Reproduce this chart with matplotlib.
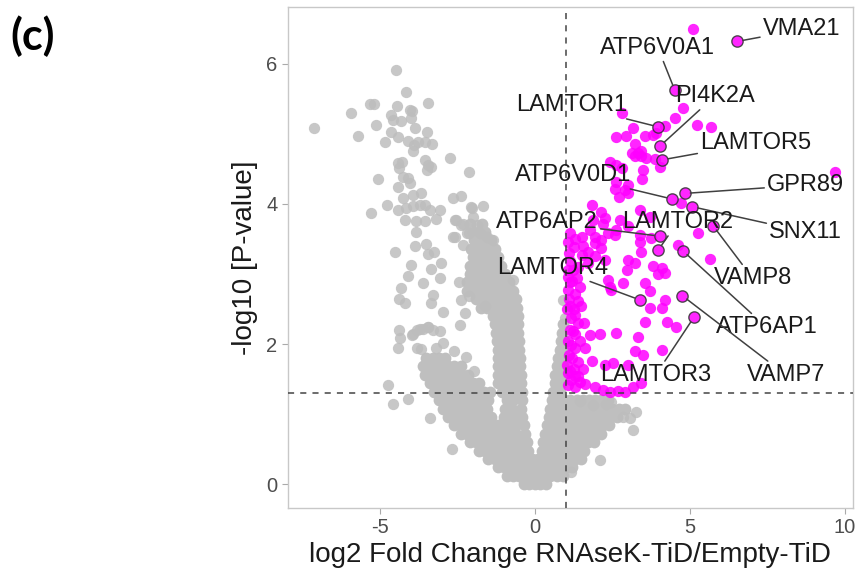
import numpy as np
import matplotlib
matplotlib.use("Agg")
import matplotlib.pyplot as plt

# ---------------------------------------------------------------
# data (log2 FC, -log10 p)
# ---------------------------------------------------------------

# scattered grey (non significant) proteins
gray_x = [-4.49, -4.15, -5.33, -5.19, -5.93, -4.45, -3.45, -4.04, -3.97, -4.65, -4.58, -4.33,
          -3.99, -7.14, -5.12, -5.71, -4.64, -4.42, -3.86, -3.49, -4.83, -4.10, -3.90, -3.77,
          -3.54, -3.32, -3.93, -2.75, -4.42, -4.29, -4.39, -3.56, -3.45, -3.35, -3.47, -2.11,
          -5.06, -4.26, -4.10, -4.04, -4.42, -3.94, -3.69, -4.26, -2.65, -2.38,
          -4.77, -5.28, -4.42, -4.15, -3.94, -3.72, -3.54, -3.07, -3.40, -4.20, -3.83, -3.56,
          -3.18, -2.59, -2.38, -2.05, -1.68, -3.83, -2.59, -2.32, -2.11, -4.53, -3.88, -3.51,
          -3.24, -3.45, -3.99, -4.10, -3.02, -3.35, -3.07, -3.61, -4.33, -4.37, -4.20, -3.29,
          -3.35, -2.97, -2.38, -2.11, -2.27, -2.43, -4.37, -3.94, -3.72, -3.45, -3.07,
          -2.04, -2.53, -2.31, -1.99, -1.88, -2.64, -2.20, -1.77, -1.56, -1.34,
          -4.35, -4.41, -3.98, -3.82, -3.60, -3.44, -3.28, -3.82, -4.73, -4.59, -4.09, -3.37,
          -2.69, 3.17, 2.10, 1.18, 1.45, 3.28, 2.85, 3.06, 1.88, 2.31, 2.47, 0.91, 0.97,
          -3.20, -2.62, -3.66, -2.22, -1.95, -2.95, -1.62, -0.70, -2.45]
gray_y = [5.91, 5.60, 5.42, 5.42, 5.30, 5.40, 5.44, 5.34, 5.32, 5.27, 5.20, 5.18,
          5.22, 5.08, 5.12, 4.97, 5.03, 4.95, 5.08, 5.03, 4.89, 4.90, 4.84, 4.89,
          4.89, 4.86, 4.76, 4.66, 4.58, 4.60, 4.51, 4.63, 4.56, 4.52, 4.48, 4.45,
          4.36, 4.38, 4.37, 4.30, 4.24, 4.13, 4.16, 4.08, 4.08, 4.12,
          3.99, 3.87, 3.91, 3.94, 3.97, 3.99, 3.99, 3.91, 3.91, 3.77, 3.75, 3.76,
          3.78, 3.77, 3.70, 3.96, 3.97, 3.60, 3.53, 3.41, 3.58, 3.32, 3.40, 3.43,
          3.32, 3.29, 3.13, 2.97, 3.16, 3.07, 2.94, 2.87, 2.80, 2.64, 2.59, 2.70,
          2.59, 2.46, 2.63, 2.69, 2.44, 2.27, 2.20, 2.14, 2.21, 2.25, 2.18,
          3.94, 3.77, 3.72, 3.82, 3.70, 3.53, 3.58, 3.58, 3.53, 3.49,
          2.08, 1.94, 2.13, 2.20, 2.22, 2.24, 2.20, 1.94, 1.41, 1.15, 1.21, 0.95,
          0.50, 0.77, 0.34, 0.18, 1.19, 1.03, 0.96, 0.94, 1.13, 1.15, 1.18, 2.63, 2.37,
          1.95, 1.90, 1.93, 1.82, 1.62, 2.02, 2.55, 2.92, 2.88]

# dense grey core of the volcano, one list of log2 FC per -log10 p level
core_levels = [0.00, 0.12, 0.24, 0.36, 0.48, 0.60, 0.72, 0.84, 0.96, 1.08, 1.20, 1.32,
               1.44, 1.56, 1.68, 1.80, 1.92, 2.04, 2.16, 2.28, 2.40, 2.52, 2.64, 2.76,
               2.88, 3.00, 3.12, 3.24, 3.36, 3.48, 3.60, 3.72]
core_rows = [
    [-0.36, -0.18, 0.0, 0.18, 0.36],
    [-0.9, -0.7, -0.5, -0.3, -0.1, 0.1, 0.3, 0.5, 0.7, 0.9],
    [-1.2, -1.0, -0.8, -0.6, -0.4, -0.2, 0.0, 0.2, 0.4, 0.6, 0.8, 1.0, 1.2],
    [-1.5, -1.3, -1.1, -0.9, -0.7, -0.5, -0.3, -0.1, 0.1, 0.3, 0.5, 0.7, 0.9, 1.1, 1.3, 1.5],
    [-1.8, -1.6, -1.4, -1.2, -1.0, -0.8, -0.6, -0.4, -0.22, 0.22, 0.4, 0.6, 0.8, 1.0, 1.2,
     1.4, 1.6],
    [-2.1, -1.9, -1.7, -1.5, -1.3, -1.1, -0.9, -0.7, -0.5, -0.26, 0.27, 0.5, 0.7, 0.9, 1.1,
     1.3, 1.5, 1.7, 1.9],
    [-2.4, -2.2, -2.0, -1.8, -1.6, -1.4, -1.2, -1.0, -0.8, -0.6, -0.32, 0.34, 0.55, 0.75,
     0.95, 1.15, 1.35, 1.55, 1.75, 1.95, 2.15],
    [-2.6, -2.4, -2.2, -2.0, -1.8, -1.6, -1.4, -1.2, -1.0, -0.8, -0.6, -0.36, 0.4, 0.6, 0.8,
     1.0, 1.2, 1.4, 1.6, 1.8, 2.0, 2.2, 2.4],
    [-2.8, -2.6, -2.4, -2.2, -2.0, -1.8, -1.6, -1.4, -1.0, -0.8, -0.6, -0.4, 0.45, 0.65,
     0.85, 1.05, 1.25, 1.45, 1.65, 1.85, 2.05, 2.25, 2.45, 2.65],
    [-2.95, -2.75, -2.55, -2.35, -2.15, -1.95, -1.75, -1.55, -0.95, -0.75, -0.45, 0.5, 0.7,
     0.9, 1.1, 1.3, 1.5, 1.7, 1.9, 2.1, 2.3, 2.5, 2.7, 2.9],
    [-3.1, -2.9, -2.7, -2.5, -2.3, -2.1, -1.9, -1.7, -1.5, -0.9, -0.7, -0.42, 0.55, 0.75,
     0.95, 1.15, 1.35, 1.55, 1.75, 1.95, 2.15, 2.35],
    [-3.25, -3.05, -2.85, -2.65, -2.45, -2.25, -2.05, -1.85, -1.65, -1.45, -1.05, -0.85,
     -0.65, -0.43, 0.6, 0.8],
    [-3.4, -3.2, -3.0, -2.8, -2.6, -2.4, -2.2, -2.0, -1.8, -1.2, -1.0, -0.8, -0.6, -0.44,
     0.64, 0.84],
    [-3.55, -3.35, -3.15, -2.95, -2.75, -2.55, -2.35, -2.15, -1.2, -1.0, -0.8, -0.62, -0.46,
     0.66, 0.86],
    [-3.6, -3.4, -3.2, -3.0, -2.8, -2.6, -2.4, -1.2, -1.0, -0.8, -0.64, -0.48, 0.7, 0.9],
    [-3.5, -3.3, -3.1, -2.9, -1.2, -1.0, -0.8, -0.64, -0.48, 0.74, 0.92],
    [-1.2, -1.0, -0.8, -0.65, -0.5, 0.8, 0.94],
    [-1.22, -1.02, -0.82, -0.66, -0.52, 0.84, 0.95],
    [-1.25, -1.05, -0.85, -0.68, -0.53, 0.88],
    [-1.28, -1.08, -0.88, -0.7, -0.54, 0.92],
    [-1.35, -1.15, -0.95, -0.75, -0.56],
    [-1.75, -1.55, -1.35, -1.15, -0.95, -0.75, -0.58],
    [-1.9, -1.7, -1.5, -1.3, -1.1, -0.9, -0.7, -0.62],
    [-2.2, -2.0, -1.8, -1.6, -1.4, -1.2, -1.0, -0.8, -0.72],
    [-2.2, -2.0, -1.8, -1.6, -1.4, -1.2, -1.0, -0.85],
    [-2.1, -1.9, -1.7, -1.5, -1.3, -1.1, -0.95],
    [-2.1, -1.9, -1.7, -1.5, -1.3, -1.1],
    [-2.0, -1.8, -1.6, -1.4, -1.2],
    [-2.05, -1.85, -1.65, -1.45, -1.28],
    [-1.95, -1.75, -1.55, -1.4],
    [-2.0, -1.8, -1.6],
    [-2.1, -1.7],
]

# significant (magenta) proteins
sig_x = [5.09, 4.78, 4.52, 2.80, 4.19, 3.82, 3.92, 5.24, 5.70, 3.17, 3.55, 2.63, 2.94, 3.23,
         3.12, 3.33, 3.42, 3.58, 4.03, 2.42, 2.63, 2.80, 3.49, 9.68, 2.63, 2.58, 2.90, 3.01,
         2.72, 4.73, 1.83, 2.15, 3.39, 3.71, 1.88, 2.20, 1.77, 2.74, 2.63, 2.37, 3.01, 3.39,
         5.27, 1.51, 1.94, 2.15, 2.58, 3.23, 3.87, 3.46, 3.01, 2.26, 3.44,
         1.56, 1.94, 2.15, 1.72, 1.51, 3.39, 3.76, 4.62, 3.44, 5.65, 1.13, 1.40, 1.72, 1.94,
         2.26, 3.01, 2.96, 3.23, 3.82, 4.09, 4.19, 3.98, 2.37, 2.42, 2.85, 2.47, 3.55, 3.71,
         1.07, 1.45, 1.07, 4.19, 4.09, 3.71, 1.40, 3.55, 4.25, 4.57, 1.18, 1.13, 1.29, 1.77,
         2.10, 2.63, 3.33, 1.18, 1.61, 3.23, 3.49, 4.09, 1.83, 2.26, 2.53, 3.01, 1.07, 1.18,
         1.45, 1.61, 1.29, 1.94, 2.20, 2.42, 2.69, 2.90, 3.17, 3.44,
         1.08, 1.10, 1.06, 1.10, 1.05, 1.06, 1.10, 1.05, 1.12, 1.06, 1.20, 1.25, 1.20, 1.30,
         1.12, 1.25, 1.22, 1.35, 1.15, 1.30, 1.12, 1.28, 1.40, 1.22, 1.45, 1.30, 1.40, 1.25,
         1.38, 1.55, 1.50, 1.60, 1.30]
sig_y = [6.49, 5.37, 5.22, 5.30, 5.11, 4.99, 5.01, 5.13, 5.10, 5.08, 4.97, 4.95, 4.97, 4.86,
         4.72, 4.72, 4.68, 4.65, 4.53, 4.60, 4.56, 4.51, 4.49, 4.45, 4.32, 4.22, 4.20, 4.16,
         4.10, 4.01, 3.99, 3.89, 3.91, 3.82, 3.77, 3.72, 3.63, 3.77, 3.63, 3.58, 3.68, 3.56,
         3.58, 3.53, 3.53, 3.49, 3.56, 4.68, 4.64, 4.35, 4.27, 3.80, 4.76,
         3.40, 3.44, 3.37, 3.32, 3.27, 3.46, 3.51, 3.41, 3.32, 3.22, 3.18, 3.10, 3.15, 3.25,
         3.20, 3.20, 3.06, 3.15, 3.11, 3.08, 3.01, 3.00, 2.91, 2.82, 2.87, 2.77, 2.87, 2.76,
         2.96, 2.82, 2.77, 2.63, 2.51, 2.51, 2.62, 2.32, 2.32, 2.25, 2.37, 2.20, 2.15, 2.13,
         2.15, 2.16, 2.10, 1.99, 1.95, 1.90, 1.84, 1.92, 1.76, 1.70, 1.73, 1.70, 1.58, 1.49,
         1.46, 1.43, 1.39, 1.39, 1.34, 1.31, 1.33, 1.31, 1.39, 1.44,
         3.45, 3.30, 3.05, 2.65, 2.50, 2.05, 1.85, 1.70, 1.62, 1.42, 1.80, 2.50, 2.90, 1.55,
         3.58, 3.38, 3.05, 2.95, 2.88, 2.72, 2.55, 2.42, 2.30, 2.18, 2.05, 1.95, 1.75, 1.65,
         1.55, 1.65, 2.55, 2.30, 3.50]

# labelled proteins and where their labels sit
gene_names = ['VMA21', 'ATP6V0A1', 'PI4K2A', 'LAMTOR1', 'LAMTOR5', 'GPR89', 'ATP6V0D1',
              'SNX11', 'ATP6AP2', 'LAMTOR2', 'VAMP8', 'ATP6AP1', 'VAMP7', 'LAMTOR3', 'LAMTOR4']
gene_x = [6.54, 4.52, 4.05, 3.98, 4.12, 4.84, 4.43, 5.08, 4.03, 3.98, 5.75, 4.78, 4.76, 5.13, 3.39]
gene_y = [6.32, 5.62, 4.83, 5.10, 4.63, 4.15, 4.07, 3.96, 3.54, 3.34, 3.69, 3.33, 2.69, 2.38, 2.63]
text_x = [8.61, 3.97, 5.81, 1.19, 7.13, 8.74, 1.23, 8.74, 0.39, 4.61, 7.03, 7.48, 8.10, 3.90, 0.58]
text_y = [6.49, 6.23, 5.54, 5.41, 4.87, 4.27, 4.41, 3.60, 3.74, 3.74, 2.94, 2.24, 1.56, 1.56, 3.09]

fc_cut = 1.0
p_cut = 1.3

plt.rcParams['font.family'] = ['Liberation Sans', 'DejaVu Sans']
plt.rcParams['axes.unicode_minus'] = False

fig = plt.figure(figsize=(8.57, 5.68), dpi=100)
ax = fig.add_axes([0.336, 0.1056, 0.659, 0.882])

core_x = [x for row in core_rows for x in row]
core_y = [lev for lev, row in zip(core_levels, core_rows) for x in row]

# solid core so the overlap grid does not show, lighter loose points
ax.scatter(core_x, core_y, s=72, color='#BFBFBF', linewidths=0, zorder=2)
ax.scatter(gray_x, gray_y, s=66, color='#BDBDBD', alpha=0.85, linewidths=0, zorder=2)
ax.scatter(sig_x, sig_y, s=66, color='#FF00FF', alpha=0.85, linewidths=0, zorder=3)
ax.scatter(gene_x, gene_y, s=66, color='#FF00FF', alpha=0.85, edgecolors='#333333',
           linewidths=1.0, zorder=4)

ax.axvline(fc_cut, color='#444444', lw=1.1, ls=(0, (4, 4)), zorder=5)
ax.axhline(p_cut, color='#444444', lw=1.1, ls=(0, (4, 4)), zorder=5)

for name, gx, gy, tx, ty in zip(gene_names, gene_x, gene_y, text_x, text_y):
    ax.annotate(name, xy=(gx, gy), xytext=(tx, ty), ha='center', va='center',
                fontsize=17, color='#1a1a1a', zorder=6,
                arrowprops=dict(arrowstyle='-', color='#404040', lw=1.1,
                                shrinkA=0, shrinkB=4))

ax.set_xlim(-7.97, 10.26)
ax.set_ylim(-0.34, 6.81)
ax.set_xticks([-5, 0, 5, 10])
ax.set_yticks([0, 2, 4, 6])
ax.tick_params(colors='#AAAAAA', labelcolor='#4D4D4D', labelsize=14.5, length=4, width=0.8)
for sp in ax.spines.values():
    sp.set_color('#C8C8C8')
    sp.set_linewidth(1.0)

ax.set_xlabel('log2 Fold Change RNAseK-TiD/Empty-TiD', fontsize=20, color='#1a1a1a',
              labelpad=3)
ax.set_ylabel('-log10 [P-value]', fontsize=20, color='#1a1a1a', labelpad=6)

fig.text(0.012, 0.972, '(c)', fontsize=31, fontweight='bold', family=['Lato', 'DejaVu Sans'],
         ha='left', va='top')

fig.savefig('out.png', dpi=100)
